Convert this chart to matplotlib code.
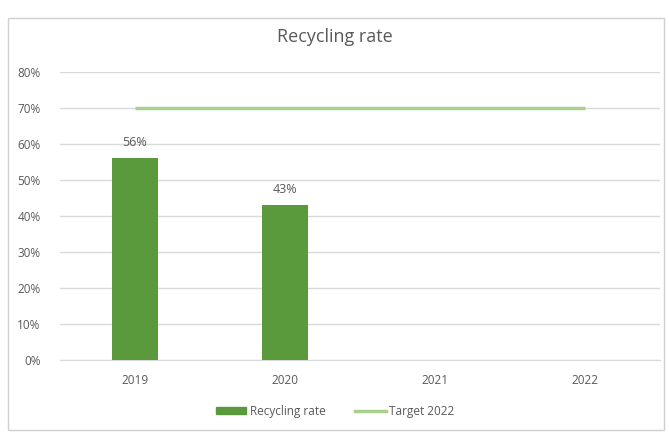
import matplotlib.pyplot as plt
from matplotlib.patches import Rectangle
from matplotlib.lines import Line2D

years = ["2019", "2020", "2021", "2022"]
recycling_rate = [0.56, 0.43, None, None]
target_2022 = [0.70, 0.70, 0.70, 0.70]
y_ticks = [0.0, 0.1, 0.2, 0.3, 0.4, 0.5, 0.6, 0.7, 0.8]

bar_color = "#5B9A3C"
line_color = "#A9D18E"
text_color = "#595959"
grid_color = "#D9D9D9"

plt.rcParams["font.family"] = ["Open Sans", "DejaVu Sans"]

W, H = 669, 436
fig = plt.figure(figsize=(W / 100, H / 100), dpi=100)
fig.patch.set_facecolor("white")

# chart frame
fig.patches.append(Rectangle((8 / W, 1 - 430 / H), 656 / W, 412 / H,
                             transform=fig.transFigure, fill=False,
                             edgecolor="#D0D0D0", linewidth=1))

ax = fig.add_axes([60 / W, 1 - 360 / H, 600 / W, 288 / H])
x = list(range(len(years)))

bx = [i for i, v in zip(x, recycling_rate) if v is not None]
bv = [v for v in recycling_rate if v is not None]
ax.bar(bx, bv, width=0.31, color=bar_color, zorder=3)
for i, v in zip(bx, bv):
    ax.text(i, v + 0.025, f"{v:.0%}", ha="center", va="bottom",
            fontsize=9, color=text_color)

ax.plot(x, target_2022, color=line_color, linewidth=2.5, zorder=4,
        solid_capstyle="butt")

ax.set_xlim(-0.5, len(years) - 0.5)
ax.set_ylim(0, 0.8)
ax.set_yticks(y_ticks)
ax.set_yticklabels([f"{t:.0%}" for t in y_ticks])
ax.set_xticks(x)
ax.set_xticklabels(years)
ax.tick_params(axis="both", length=0, labelsize=8.5, labelcolor=text_color)
ax.tick_params(axis="y", pad=14)
ax.tick_params(axis="x", pad=10)
ax.grid(axis="y", color=grid_color, linewidth=1, zorder=0)
for s in ["top", "right", "left"]:
    ax.spines[s].set_visible(False)
ax.spines["bottom"].set_color(grid_color)

fig.text(335 / W, 1 - 37 / H, "Recycling rate", ha="center", va="center",
         fontsize=13, color=text_color)

handles = [Rectangle((0, 0), 1, 1, color=bar_color),
           Line2D([0], [0], color=line_color, linewidth=2.5)]
fig.legend(handles, ["Recycling rate", "Target 2022"], loc="center",
           bbox_to_anchor=(335 / W, 1 - 411 / H), ncol=2, frameon=False,
           fontsize=8.5, labelcolor=text_color, handlelength=2.6,
           handleheight=0.5, columnspacing=2.5, handletextpad=0.3)

fig.savefig("out.png", dpi=100)
